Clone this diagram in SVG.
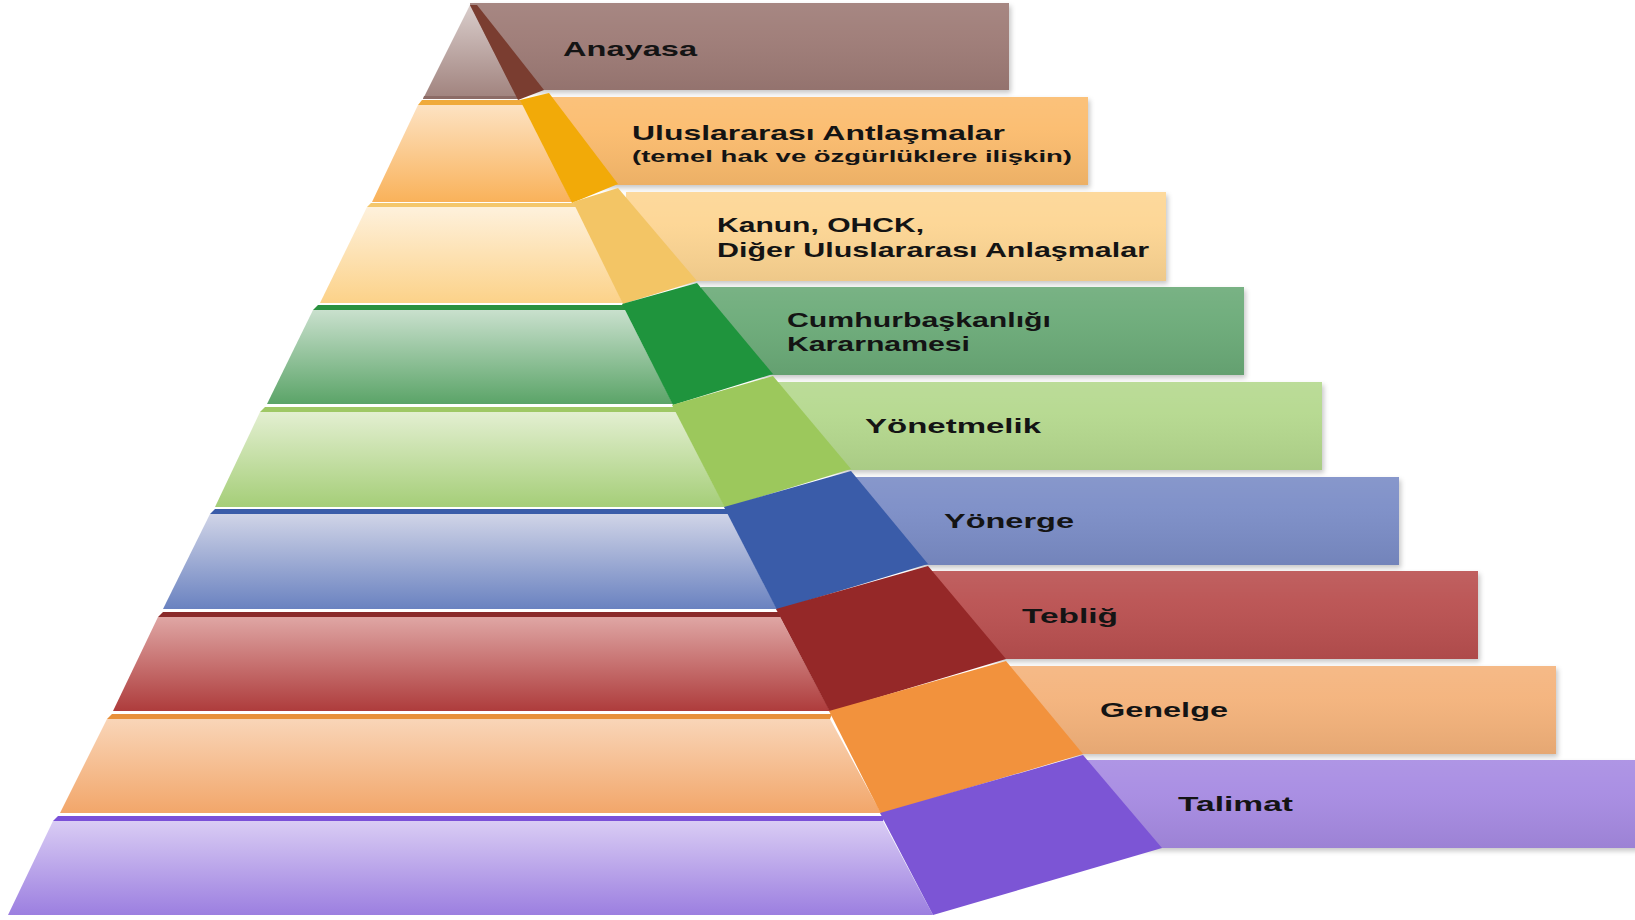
<svg xmlns="http://www.w3.org/2000/svg" width="1635" height="920" viewBox="0 0 1635 920">
  <defs>
    <style>
      .lbl { font-family: "Liberation Sans", Arial, sans-serif; font-weight: bold; font-size: 21px; fill: #141414; }
      .sub { font-size: 17px; }
      .sheen { fill: url(#sheen); }
      .banner { filter: url(#shadow); }
    </style>
    <filter id="shadow" x="-5%" y="-10%" width="110%" height="130%">
      <feDropShadow dx="2" dy="3" stdDeviation="2.5" flood-color="#000" flood-opacity="0.22"/>
    </filter>
    <linearGradient id="sheen" x1="0" y1="0" x2="0" y2="1">
      <stop offset="0" stop-color="#fff" stop-opacity="0.10"/>
      <stop offset="0.35" stop-color="#fff" stop-opacity="0.05"/>
      <stop offset="1" stop-color="#000" stop-opacity="0.06"/>
    </linearGradient>
    <linearGradient id="f1" x1="0" y1="0" x2="0" y2="1"><stop offset="0" stop-color="#d9cdcb"/><stop offset="1" stop-color="#a0827d"/></linearGradient>
    <linearGradient id="f2" x1="0" y1="0" x2="0" y2="1"><stop offset="0" stop-color="#fde2c2"/><stop offset="1" stop-color="#f9b25a"/></linearGradient>
    <linearGradient id="f3" x1="0" y1="0" x2="0" y2="1"><stop offset="0" stop-color="#fef1dc"/><stop offset="1" stop-color="#fcd289"/></linearGradient>
    <linearGradient id="f4" x1="0" y1="0" x2="0" y2="1"><stop offset="0" stop-color="#c9e0cd"/><stop offset="1" stop-color="#5ba468"/></linearGradient>
    <linearGradient id="f5" x1="0" y1="0" x2="0" y2="1"><stop offset="0" stop-color="#e3efd1"/><stop offset="1" stop-color="#a5ce78"/></linearGradient>
    <linearGradient id="f6" x1="0" y1="0" x2="0" y2="1"><stop offset="0" stop-color="#d0d4e7"/><stop offset="1" stop-color="#6a82c0"/></linearGradient>
    <linearGradient id="f7" x1="0" y1="0" x2="0" y2="1"><stop offset="0" stop-color="#dfa6a4"/><stop offset="1" stop-color="#ae3c3c"/></linearGradient>
    <linearGradient id="f8" x1="0" y1="0" x2="0" y2="1"><stop offset="0" stop-color="#f9d5b8"/><stop offset="1" stop-color="#f2a66a"/></linearGradient>
    <linearGradient id="f9" x1="0" y1="0" x2="0" y2="1"><stop offset="0" stop-color="#d9ccf4"/><stop offset="1" stop-color="#9c7fe0"/></linearGradient>
  </defs>

  <rect width="1635" height="920" fill="#ffffff"/>

  <!-- Level 1: Anayasa -->
  <g id="anayasa">
    <rect class="banner" x="470" y="3" width="539" height="87" fill="#9d7a75"/>
    <rect class="sheen" x="470" y="3" width="539" height="87"/>
    <polygon points="470,5 423,99 518,99" fill="url(#f1)"/>
    <polygon points="424,96 518,96 518,99 423,99" fill="#8c6b66"/>
    <polygon points="470,5 477,5 544,90 518,100" fill="#7a3d30"/>
    <text class="lbl" x="563" y="56" textLength="134" lengthAdjust="spacingAndGlyphs">Anayasa</text>
  </g>

  <!-- Level 2: Uluslararası Antlaşmalar -->
  <g id="uluslararasi-antlasmalar">
    <rect class="banner" x="548" y="97" width="540" height="88" fill="#fbbb6c"/>
    <rect class="sheen" x="548" y="97" width="540" height="88"/>
    <polygon points="418,105 422,100 524,100 523,105" fill="#f0aa3a"/>
    <polygon points="418,105 523,105 572,202 372,202" fill="url(#f2)"/>
    <polygon points="520,100 549,93 618,184 572,203" fill="#f2aa08"/>
    <text class="lbl" x="632" y="140" textLength="373" lengthAdjust="spacingAndGlyphs">Uluslararası Antlaşmalar</text>
    <text class="lbl sub" x="632" y="162" textLength="440" lengthAdjust="spacingAndGlyphs">(temel hak ve özgürlüklere ilişkin)</text>
  </g>

  <!-- Level 3: Kanun, OHCK -->
  <g id="kanun-ohck">
    <rect class="banner" x="626" y="192" width="540" height="89" fill="#fdd592"/>
    <rect class="sheen" x="626" y="192" width="540" height="89"/>
    <polygon points="367,207 371,203 578,203 577,207" fill="#f4c76c"/>
    <polygon points="367,207 577,207 623,303 320,303" fill="url(#f3)"/>
    <polygon points="573,202 618,188 697,281 623,304" fill="#f3c565"/>
    <text class="lbl" x="717" y="232" textLength="207" lengthAdjust="spacingAndGlyphs">Kanun, OHCK,</text>
    <text class="lbl" x="717" y="257" textLength="432" lengthAdjust="spacingAndGlyphs">Diğer Uluslararası Anlaşmalar</text>
  </g>

  <!-- Level 4: Cumhurbaşkanlığı Kararnamesi -->
  <g id="cumhurbaskanligi-kararnamesi">
    <rect class="banner" x="701" y="287" width="543" height="88" fill="#6aaa77"/>
    <rect class="sheen" x="701" y="287" width="543" height="88"/>
    <polygon points="313,310 318,305 627,305 625,310" fill="#2a9140"/>
    <polygon points="313,310 625,310 673,404 267,404" fill="url(#f4)"/>
    <polygon points="622,304 697,283 773,374 673,405" fill="#1f943d"/>
    <text class="lbl" x="787" y="327" textLength="264" lengthAdjust="spacingAndGlyphs">Cumhurbaşkanlığı</text>
    <text class="lbl" x="787" y="351" textLength="183" lengthAdjust="spacingAndGlyphs">Kararnamesi</text>
  </g>

  <!-- Level 5: Yönetmelik -->
  <g id="yonetmelik">
    <rect class="banner" x="778" y="382" width="544" height="88" fill="#b4d88d"/>
    <rect class="sheen" x="778" y="382" width="544" height="88"/>
    <polygon points="260,412 265,407 678,407 676,412" fill="#9fc865"/>
    <polygon points="260,412 676,412 725,507 215,507" fill="url(#f5)"/>
    <polygon points="672,405 773,376 851,469 725,508" fill="#9cc85c"/>
    <text class="lbl" x="865" y="433" textLength="176" lengthAdjust="spacingAndGlyphs">Yönetmelik</text>
  </g>

  <!-- Level 6: Yönerge -->
  <g id="yonerge">
    <rect class="banner" x="855" y="477" width="544" height="88" fill="#7a8cc6"/>
    <rect class="sheen" x="855" y="477" width="544" height="88"/>
    <polygon points="210,514 215,509 730,509 728,514" fill="#3a5ca9"/>
    <polygon points="210,514 728,514 777,609 163,609" fill="url(#f6)"/>
    <polygon points="724,507 851,471 928,564 777,610" fill="#3a5ca9"/>
    <text class="lbl" x="944" y="528" textLength="130" lengthAdjust="spacingAndGlyphs">Yönerge</text>
  </g>

  <!-- Level 7: Tebliğ -->
  <g id="teblig">
    <rect class="banner" x="932" y="571" width="546" height="88" fill="#b94f4f"/>
    <rect class="sheen" x="932" y="571" width="546" height="88"/>
    <polygon points="158,617 163,612 782,612 780,617" fill="#8a2a2a"/>
    <polygon points="158,617 780,617 830,711 113,711" fill="url(#f7)"/>
    <polygon points="776,609 928,566 1006,659 830,712" fill="#952828"/>
    <text class="lbl" x="1022" y="623" textLength="96" lengthAdjust="spacingAndGlyphs">Tebliğ</text>
  </g>

  <!-- Level 8: Genelge -->
  <g id="genelge">
    <rect class="banner" x="1009" y="666" width="547" height="88" fill="#f4b27a"/>
    <rect class="sheen" x="1009" y="666" width="547" height="88"/>
    <polygon points="107,719 112,714 832,714 830,719" fill="#e8903a"/>
    <polygon points="107,719 830,719 881,813 60,813" fill="url(#f8)"/>
    <polygon points="829,711 1006,661 1083,754 881,814" fill="#f2923d"/>
    <text class="lbl" x="1100" y="717" textLength="128" lengthAdjust="spacingAndGlyphs">Genelge</text>
  </g>

  <!-- Level 9: Talimat -->
  <g id="talimat">
    <rect class="banner" x="1086" y="760" width="560" height="88" fill="#a68ae2"/>
    <rect class="sheen" x="1086" y="760" width="560" height="88"/>
    <polygon points="53,821 58,816 885,816 883,821" fill="#7a50d8"/>
    <polygon points="53,821 883,821 933,915 8,915" fill="url(#f9)"/>
    <polygon points="880,813 1083,755 1162,848 933,915" fill="#7c55d5"/>
    <text class="lbl" x="1178" y="811" textLength="115" lengthAdjust="spacingAndGlyphs">Talimat</text>
  </g>
</svg>
